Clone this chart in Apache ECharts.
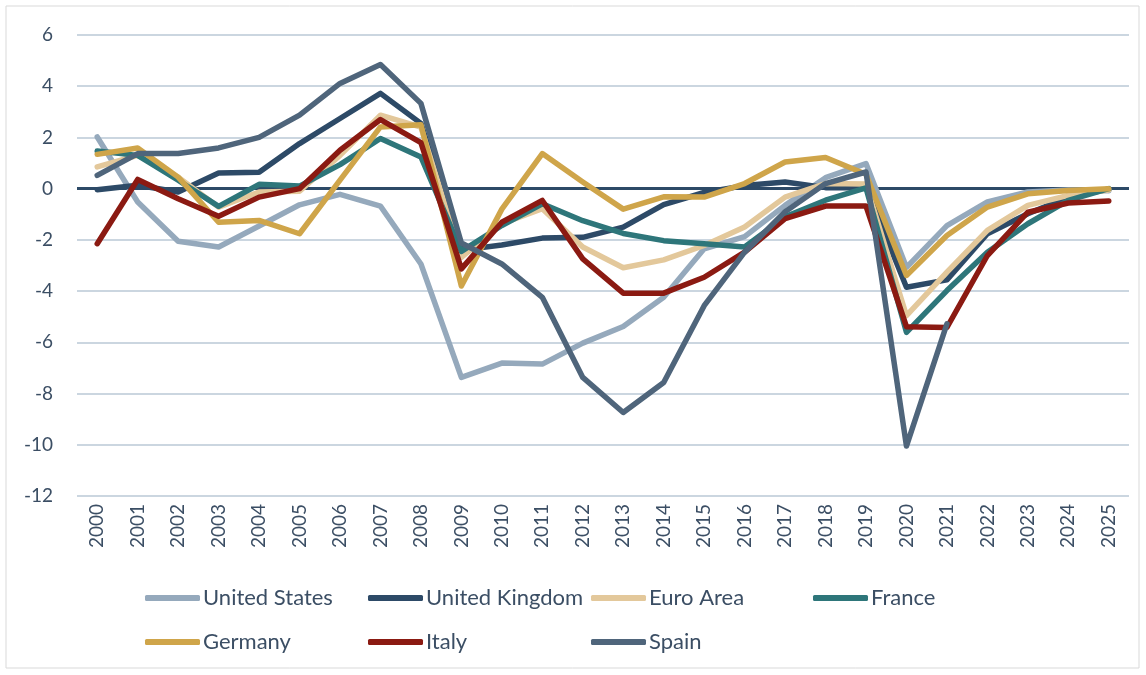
<!DOCTYPE html>
<html>
<head>
<meta charset="utf-8">
<script src="https://cdn.jsdelivr.net/npm/echarts@6/dist/echarts.min.js"></script>
<style>
  html, body { margin: 0; padding: 0; background: #fff; }
  #chart { width: 1146px; height: 675px; }
</style>
</head>
<body>
<div id="chart"></div>
<script>
// Years on the category axis
const years = ['2000','2001','2002','2003','2004','2005','2006','2007','2008','2009','2010','2011','2012',
  '2013','2014','2015','2016','2017','2018','2019','2020','2021','2022','2023','2024','2025'];

// Series values
const unitedStates = [2.02, -0.52, -2.05, -2.28, -1.46, -0.63, -0.22, -0.68, -2.94, -7.37, -6.81, -6.85, -6.03,
  -5.38, -4.24, -2.35, -1.87, -0.65, 0.43, 0.98, -3.07, -1.44, -0.52, -0.13, -0.05, -0.08];
const unitedKingdom = [-0.04, 0.13, -0.13, 0.61, 0.64, 1.76, 2.74, 3.72, 2.55, -2.4, -2.2, -1.93, -1.9,
  -1.5, -0.62, -0.15, 0.12, 0.26, 0.04, 0.05, -3.85, -3.56, -1.76, -0.98, -0.33, -0.02];
const euroArea = [0.85, 1.3, 0.45, -0.72, -0.13, -0.1, 1.3, 2.87, 2.4, -2.68, -1.37, -0.78, -2.28,
  -3.09, -2.78, -2.22, -1.5, -0.33, 0.2, 0.18, -4.96, -3.26, -1.63, -0.65, -0.26, -0.05];
const france = [1.47, 1.3, 0.33, -0.69, 0.17, 0.1, 0.94, 1.96, 1.24, -2.45, -1.44, -0.59, -1.25,
  -1.75, -2.03, -2.15, -2.28, -1.1, -0.45, 0.03, -5.61, -3.98, -2.48, -1.37, -0.46, 0];
const germany = [1.34, 1.59, 0.45, -1.31, -1.24, -1.76, 0.33, 2.41, 2.5, -3.8, -0.8, 1.37, 0.26,
  -0.8, -0.32, -0.33, 0.2, 1.04, 1.22, 0.56, -3.39, -1.83, -0.72, -0.2, -0.07, 0];
const italy = [-2.15, 0.36, -0.39, -1.08, -0.33, 0.0, 1.5, 2.7, 1.8, -3.13, -1.31, -0.46, -2.74,
  -4.08, -4.08, -3.46, -2.48, -1.17, -0.68, -0.68, -5.39, -5.42, -2.61, -0.92, -0.56, -0.48];
const spain = [0.52, 1.37, 1.37, 1.59, 2.0, 2.87, 4.11, 4.85, 3.33, -2.12, -2.94, -4.24, -7.37,
  -8.74, -7.57, -4.57, -2.48, -0.9, 0.2, 0.65, -10.05, -5.28, null, null, null, null];

const seriesNames = ['United States', 'United Kingdom', 'Euro Area', 'France', 'Germany', 'Italy', 'Spain'];
const seriesData = [unitedStates, unitedKingdom, euroArea, france, germany, italy, spain];
const colors = ['#95A9BC', '#2D4A67', '#E3C89B', '#2E767A', '#CFA54A', '#8B1A12', '#4F657B'];

// y axis range / ticks
const yMin = -12;
const yMax = 6;
const yStep = 2;

const textColor = '#3B4E64';
const font = 'Lato, "Open Sans", sans-serif';

// legend slots (Excel-style grid: 4 columns, 2 rows)
const legendSlots = [
  { left: 145, top: 587 }, { left: 368, top: 587 }, { left: 591, top: 587 }, { left: 813, top: 587 },
  { left: 145, top: 631 }, { left: 368, top: 631 }, { left: 591, top: 631 }
];

const legends = seriesNames.map((name, i) => ({
  data: [name],
  left: legendSlots[i].left,
  top: legendSlots[i].top,
  padding: 0,
  icon: 'roundRect',
  itemWidth: 55,
  itemHeight: 6,
  selectedMode: false,
  textStyle: { color: textColor, fontSize: 22, fontFamily: font, padding: [0, 0, 0, -2] }
}));

const series = seriesNames.map((name, i) => {
  const s = {
    name,
    type: 'line',
    data: seriesData[i],
    symbol: 'none',
    color: colors[i],
    lineStyle: { width: 5.5, color: colors[i], cap: 'round', join: 'round' },
    connectNulls: false,
    animation: false
  };
  if (i === 0) {
    // zero line across the plot
    s.markLine = {
      silent: true,
      symbol: 'none',
      label: { show: false },
      lineStyle: { color: '#2D4A67', width: 3, type: 'solid' },
      emphasis: { disabled: true },
      data: [{ yAxis: 0 }],
      z: 1
    };
  }
  return s;
});

const chart = echarts.init(document.getElementById('chart'));
chart.setOption({
  animation: false,
  backgroundColor: '#fff',
  grid: { left: 77, right: 17, top: 35, bottom: 179, containLabel: false },
  legend: legends,
  graphic: [{
    type: 'rect',
    shape: { x: 6, y: 6, width: 1133, height: 662 },
    style: { fill: 'none', stroke: '#D9D9D9', lineWidth: 1 },
    silent: true
  }],
  xAxis: {
    type: 'category',
    data: years,
    boundaryGap: true,
    axisLine: { show: false },
    axisTick: { show: false },
    axisLabel: { rotate: 90, margin: 8, color: textColor, fontSize: 19, fontFamily: font }
  },
  yAxis: {
    type: 'value',
    min: yMin,
    max: yMax,
    interval: yStep,
    axisLine: { show: false },
    axisTick: { show: false },
    axisLabel: { margin: 24, color: textColor, fontSize: 19, fontFamily: font },
    splitLine: { lineStyle: { color: '#BAC8D6', width: 1.5 } }
  },
  series
});
</script>
</body>
</html>
